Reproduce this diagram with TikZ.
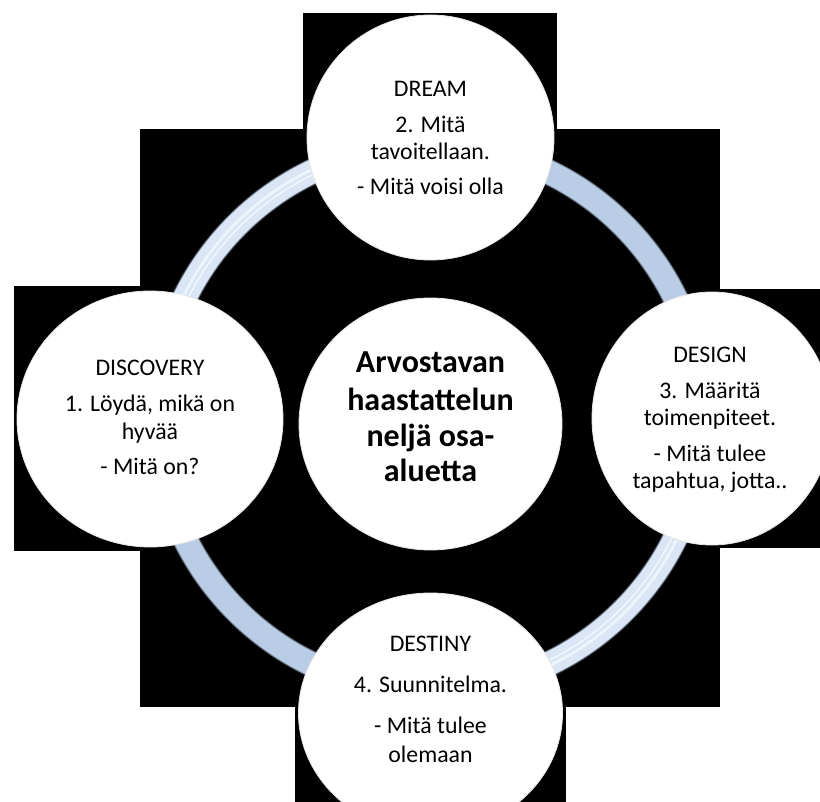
\documentclass[tikz,border=0pt]{standalone}
\usepackage{fontspec}
\setmainfont{Carlito}
\usetikzlibrary{shapes.geometric}

\definecolor{ringblue}{RGB}{186,205,230}
\definecolor{ringlight}{RGB}{218,230,245}

\begin{document}
\begin{tikzpicture}[x=1pt,y=-1pt,
  disc/.style={ellipse, fill=white, draw=black!10, line width=0.8pt, inner sep=0pt},
  txt/.style={anchor=base, inner sep=0pt, font=\fontsize{23.8}{27}\selectfont},
  hdr/.style={anchor=base, inner sep=0pt, font=\bfseries\fontsize{32}{35}\selectfont},
  band/.style={line width=#1, line cap=butt}]

\useasboundingbox (0,0) rectangle (820,802);
\fill[white] (0,0) rectangle (820,802);

% black backdrop: central square plus one box per outer disc
\fill[black] (140,129) rectangle (720,707);
\fill[black] (303,13) rectangle (557,262);
\fill[black] (14,286) rectangle (286,551);
\fill[black] (590,289) rectangle (820,548);
\fill[black] (295,590) rectangle (566,802);

% the cycle ring, with soft edges
\coordinate (hub) at (430,418);
\draw[band=26pt, ringblue!35!black] (hub) circle[radius=273];
\draw[band=24.5pt, ringblue!70!black] (hub) circle[radius=273];
\draw[band=23pt, ringblue] (hub) circle[radius=273];
% lighter, glossy quarters
\draw[band=23pt, ringlight] ([shift={(180:273)}]hub) arc[start angle=180, end angle=270, radius=273];
\draw[band=23pt, ringlight] ([shift={(0:273)}]hub) arc[start angle=0, end angle=90, radius=273];
\foreach \a in {180,0}{
  \draw[white, line width=2.5pt, opacity=.6] ([shift={(\a+5:275)}]hub) arc[start angle=\a+5, end angle=\a+85, radius=275];
  \draw[white, line width=1.2pt, opacity=.8] ([shift={(\a+5:270)}]hub) arc[start angle=\a+5, end angle=\a+85, radius=270];
}

% discs
\node[disc, minimum width=247pt, minimum height=245pt] (dream) at (430.5,137.5) {};
\node[disc, minimum width=266pt, minimum height=256pt] (discovery) at (150,419) {};
\node[disc, minimum width=263pt, minimum height=252pt] (core) at (430.5,424) {};
\node[disc, minimum width=240pt, minimum height=253pt] (design) at (712,418.5) {};
\node[disc, minimum width=264pt, minimum height=240pt] (destiny) at (430.5,713) {};

% texts, one node per line
\foreach \t/\y [count=\i] in {{DREAM}/97, {2. Mitä}/132.5, {tavoitellaan.}/159.5, {- Mitä voisi olla}/195}
  \node[txt] (dream-\i) at (430.5,\y) {\t};
\foreach \t/\y [count=\i] in {{DISCOVERY}/376, {1. Löydä, mikä on}/412, {hyvää}/439, {- Mitä on?}/474.5}
  \node[txt] (discovery-\i) at (150,\y) {\t};
\foreach \t/\y [count=\i] in {{DESIGN}/363, {3. Määritä}/398.5, {toimenpiteet.}/425.5, {- Mitä tulee}/461, {tapahtua, jotta..}/488}
  \node[txt] (design-\i) at (710,\y) {\t};
\foreach \t/\y [count=\i] in {{DESTINY}/651, {4. Suunnitelma.}/692, {- Mitä tulee}/733, {olemaan}/762}
  \node[txt] (destiny-\i) at (430.5,\y) {\t};
\foreach \t/\y [count=\i] in {{Arvostavan}/373, {haastattelun}/410, {neljä osa-}/446.5, {aluetta}/482}
  \node[hdr] (core-\i) at (430.5,\y) {\t};
\end{tikzpicture}
\end{document}
